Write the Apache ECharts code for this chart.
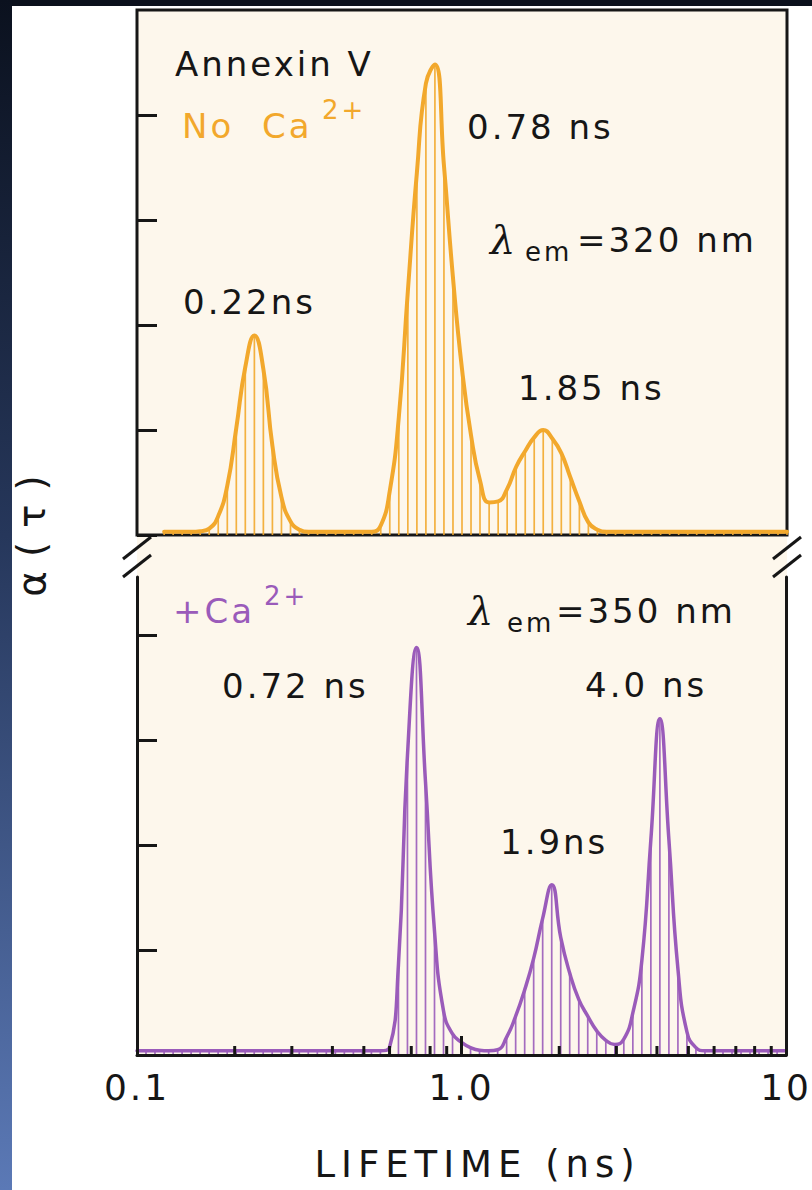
<!DOCTYPE html>
<html>
<head>
<meta charset="utf-8">
<script src="https://cdn.jsdelivr.net/npm/echarts@6/dist/echarts.min.js"></script>
<style>
html,body{margin:0;padding:0;background:#ffffff;}
#chart{width:812px;height:1190px;}
#chart text{letter-spacing:3px;}
#chart text[style*="37px"]{letter-spacing:6px;}
#chart text[style*="39px"]{letter-spacing:14px;}
</style>
</head>
<body>
<div id="chart"></div>
<script>
// Lifetime sample points (ns), shared by both panels
const tau = [0.1, 0.1066, 0.1136, 0.1212, 0.1292, 0.1377, 0.1468, 0.1565, 0.1668, 0.1778,
  0.1896, 0.2021, 0.2154, 0.2297, 0.2448, 0.2610, 0.2783, 0.2967, 0.3162, 0.3371,
  0.3594, 0.3831, 0.4084, 0.4354, 0.4642, 0.4948, 0.5275, 0.5623, 0.5995, 0.6391,
  0.6813, 0.7264, 0.7743, 0.8254, 0.8799, 0.9381, 1.0, 1.066, 1.136, 1.212,
  1.292, 1.377, 1.468, 1.565, 1.668, 1.778, 1.896, 2.021, 2.154, 2.297,
  2.448, 2.610, 2.783, 2.967, 3.162, 3.371, 3.594, 3.831, 4.084, 4.354,
  4.642, 4.948, 5.275, 5.623, 5.995, 6.391, 6.813, 7.264, 7.743, 8.254,
  8.799, 9.381, 10.0];

// alpha(tau), Annexin V, no Ca2+ (em 320 nm)
const noCa = [null, null, null, 0.03, 0.03, 0.03, 0.03, 0.035, 0.06, 0.18,
  0.47, 1.02, 1.6, 1.9, 1.58, 0.85, 0.36, 0.13, 0.05, 0.03,
  0.03, 0.03, 0.03, 0.03, 0.03, 0.03, 0.03, 0.09, 0.42, 1.12,
  2.32, 3.45, 4.3, 4.48, 3.52, 2.45, 1.58, 0.95, 0.52, 0.31,
  0.32, 0.44, 0.65, 0.8, 0.93, 1.0, 0.92, 0.78, 0.55, 0.32,
  0.12, 0.05, 0.03, 0.03, 0.03, 0.03, 0.03, 0.03, 0.03, 0.03,
  0.03, 0.03, 0.03, 0.03, 0.03, 0.03, 0.03, 0.03, 0.03, 0.03,
  0.03, 0.03, 0.03];

// alpha(tau), + Ca2+ (em 350 nm)
const withCa = [0.04, 0.04, 0.04, 0.04, 0.04, 0.04, 0.04, 0.04, 0.04, 0.04,
  0.04, 0.04, 0.04, 0.04, 0.04, 0.04, 0.04, 0.04, 0.04, 0.04,
  0.04, 0.04, 0.04, 0.04, 0.04, 0.04, 0.04, 0.04, 0.07, 0.86,
  2.85, 3.88, 2.6, 1.18, 0.42, 0.2, 0.12, 0.07, 0.045, 0.04,
  0.05, 0.17, 0.37, 0.62, 0.92, 1.3, 1.62, 1.12, 0.78, 0.53,
  0.37, 0.23, 0.14, 0.1, 0.15, 0.4, 0.9, 2.05, 3.2, 2.05,
  0.82, 0.22, 0.07, 0.04, 0.04, 0.04, 0.04, 0.04, 0.04, 0.04,
  0.04, 0.04, 0.04];

// axis ticks / labels
const xMinorTicks = [0.2, 0.3, 0.4, 0.5, 0.6, 0.7, 0.8, 0.9, 2, 3, 4, 5, 6, 7, 8, 9];
const xTickLabels = ['0.1', '1.0', '10'];
const yTicksUpper = [0, 1, 2, 3, 4];
const yTicksLower = [0, 1, 2, 3, 4];

const ORANGE = '#F2A82C', PURPLE = '#9A5BBA', INK = '#161616', CREAM = '#FDF7EC';
const FONT = '"DejaVu Sans", "Noto Sans", sans-serif';
const LAMBDA_FONT = 'italic 40px "DejaVu Serif", serif';

const pairs = vals => tau.map((t, i) => [t, vals[i] == null ? '-' : vals[i]]);

function stemRenderer(color) {
  return function (params, api) {
    const v = api.value(1);
    if (v == null || isNaN(v)) return;
    const t = api.value(0);
    const p0 = api.coord([t, 0]);
    const p1 = api.coord([t, v]);
    return {
      type: 'line',
      shape: { x1: p0[0], y1: p0[1], x2: p1[0], y2: p1[1] },
      style: { stroke: color, lineWidth: 1.7, opacity: 0.9 }
    };
  };
}

function tickRenderer(params, api) {
  const p = api.coord([api.value(0), 0]);
  return {
    type: 'line',
    shape: { x1: p[0], y1: p[1], x2: p[0], y2: p[1] - 9 },
    style: { stroke: INK, lineWidth: 3 }
  };
}

function txt(s, x, y, size, color, font) {
  return {
    type: 'text', x: x, y: y, z: 50,
    style: { text: s, font: font || (size + 'px ' + FONT), fill: color, verticalAlign: 'middle', align: 'left' }
  };
}

const chart = echarts.init(document.getElementById('chart'), null, { renderer: 'svg' });

const option = {
  backgroundColor: '#ffffff',
  animation: false,
  grid: [
    { left: 137, top: 10, width: 650, height: 525, show: true, backgroundColor: CREAM, borderColor: INK, borderWidth: 3 },
    { left: 137, top: 577, width: 650, height: 478, show: true, backgroundColor: CREAM, borderWidth: 0 }
  ],
  xAxis: [
    { gridIndex: 0, type: 'log', logBase: 10, min: 0.1, max: 10,
      axisLine: { show: false }, axisTick: { show: false }, axisLabel: { show: false }, splitLine: { show: false } },
    { gridIndex: 1, type: 'log', logBase: 10, min: 0.1, max: 10, position: 'bottom', z: 5,
      axisLine: { show: true, lineStyle: { color: INK, width: 3 } },
      axisTick: { show: true, inside: true, length: 19, lineStyle: { color: INK, width: 3 } },
      axisLabel: { show: true, margin: 14, fontSize: 36, fontFamily: FONT, color: INK,
        formatter: (v, i) => xTickLabels[i] },
      splitLine: { show: false },
      name: 'LIFETIME (ns)', nameLocation: 'middle', nameGap: 91,
      nameTextStyle: { fontSize: 37, fontFamily: FONT, color: INK, padding: [0, 0, 0, 32] } }
  ],
  yAxis: [
    { gridIndex: 0, type: 'value', min: 0, max: 5, interval: 1,
      axisLine: { show: false },
      axisTick: { show: true, inside: true, length: 20, lineStyle: { color: INK, width: 3 }, customValues: yTicksUpper },
      axisLabel: { show: false }, splitLine: { show: false } },
    { gridIndex: 1, type: 'value', min: 0, max: 4.55, interval: 1, position: 'left', z: 5,
      axisLine: { show: true, lineStyle: { color: INK, width: 3 } },
      axisTick: { show: true, inside: true, length: 20, lineStyle: { color: INK, width: 3 }, customValues: yTicksLower },
      axisLabel: { show: false }, splitLine: { show: false } },
    { gridIndex: 1, type: 'value', min: 0, max: 4.55, interval: 1, position: 'right', z: 5,
      axisLine: { show: true, lineStyle: { color: INK, width: 3 } },
      axisTick: { show: false }, axisLabel: { show: false }, splitLine: { show: false } }
  ],
  series: [
    { type: 'custom', name: 'noCaStems', xAxisIndex: 0, yAxisIndex: 0, z: 2, silent: true,
      data: pairs(noCa), encode: { x: 0, y: 1 }, renderItem: stemRenderer(ORANGE) },
    { type: 'line', name: 'No Ca2+', xAxisIndex: 0, yAxisIndex: 0, z: 3, data: pairs(noCa),
      showSymbol: false, smooth: 0.5, silent: true,
      lineStyle: { color: ORANGE, width: 4, join: 'round', cap: 'round' } },
    { type: 'custom', name: 'caStems', xAxisIndex: 1, yAxisIndex: 1, z: 2, silent: true,
      data: pairs(withCa), encode: { x: 0, y: 1 }, renderItem: stemRenderer(PURPLE) },
    { type: 'line', name: '+Ca2+', xAxisIndex: 1, yAxisIndex: 1, z: 3, data: pairs(withCa),
      showSymbol: false, smooth: 0.5, silent: true,
      lineStyle: { color: PURPLE, width: 3.5, join: 'round', cap: 'round' } },
    { type: 'custom', name: 'minorTicks', xAxisIndex: 1, yAxisIndex: 1, z: 6, silent: true,
      data: xMinorTicks.map(v => [v, 0]), encode: { x: 0, y: 1 }, renderItem: tickRenderer }
  ],
  graphic: [
    // dark page edges
    { type: 'rect', z: 60, shape: { x: 0, y: 0, width: 812, height: 6 }, style: { fill: '#0b101c' } },
    { type: 'rect', z: 60, shape: { x: 0, y: 0, width: 12, height: 1190 },
      style: { fill: new echarts.graphic.LinearGradient(0, 0, 0, 1, [
        { offset: 0, color: '#0b111e' }, { offset: 0.45, color: '#26375b' }, { offset: 1, color: '#5b79b6' }]) } },
    // cream gap between panels
    { type: 'rect', z: 1, shape: { x: 137, y: 537, width: 650, height: 41 }, style: { fill: CREAM } },
    // axis break marks
    { type: 'line', z: 40, shape: { x1: 123, y1: 559, x2: 151, y2: 537 }, style: { stroke: INK, lineWidth: 3 } },
    { type: 'line', z: 40, shape: { x1: 123, y1: 577, x2: 151, y2: 555 }, style: { stroke: INK, lineWidth: 3 } },
    { type: 'line', z: 40, shape: { x1: 773, y1: 559, x2: 801, y2: 537 }, style: { stroke: INK, lineWidth: 3 } },
    { type: 'line', z: 40, shape: { x1: 773, y1: 577, x2: 801, y2: 555 }, style: { stroke: INK, lineWidth: 3 } },
    // upper panel annotations
    txt('Annexin V', 175, 64, 34, INK),
    txt('No', 182, 126, 34, ORANGE),
    txt('Ca', 262, 126, 34, ORANGE),
    txt('2+', 322, 110, 26, ORANGE),
    txt('0.78 ns', 467, 127, 34, INK),
    txt('λ', 490, 240, 40, INK, LAMBDA_FONT),
    txt('em', 525, 252, 26, INK),
    txt('=320 nm', 577, 240, 34, INK),
    txt('0.22ns', 183, 302, 34, INK),
    txt('1.85 ns', 518, 388, 34, INK),
    // lower panel annotations
    txt('+Ca', 173, 611, 34, PURPLE),
    txt('2+', 264, 596, 26, PURPLE),
    txt('λ', 468, 611, 40, INK, LAMBDA_FONT),
    txt('em', 507, 623, 26, INK),
    txt('=350 nm', 556, 611, 34, INK),
    txt('0.72 ns', 222, 686, 34, INK),
    txt('4.0 ns', 585, 685, 34, INK),
    txt('1.9ns', 500, 842, 34, INK),
    // y axis title
    { type: 'text', x: 31, y: 529, rotation: Math.PI / 2, z: 50,
      style: { text: 'α(τ)', font: '39px ' + FONT, fill: INK, align: 'center', verticalAlign: 'middle' } }
  ]
};

chart.setOption(option);
</script>
</body>
</html>
